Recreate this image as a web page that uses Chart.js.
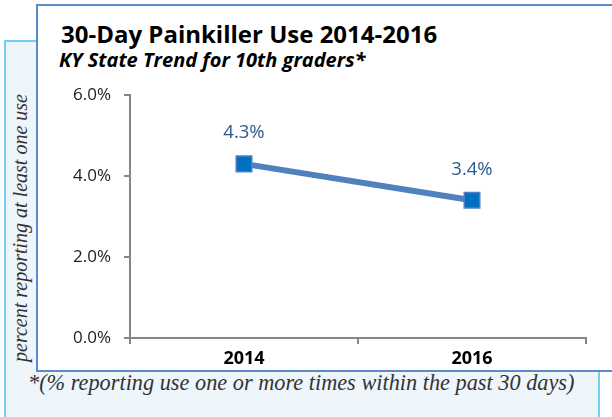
<!DOCTYPE html>
<html>
<head>
<meta charset="utf-8">
<script src="https://cdn.jsdelivr.net/npm/chart.js@4"></script>
<style>
  body { margin: 0; width: 612px; height: 417px; overflow: hidden; background: #fff; position: relative; }
  #panel { position: absolute; left: 4px; top: 40px; width: 592px; height: 400px;
           background: #eef5fb; border: 2px solid #72cdf2; }
  #box { position: absolute; left: 36px; top: 4px; width: 600px; height: 364px;
         background: #fff; border: 2px solid #5d8bc9; }
  #title { position: absolute; left: 61px; top: 17px; font: bold 24px "Open Sans", sans-serif; color: #000; }
  #subtitle { position: absolute; left: 59px; top: 46px; font: italic bold 20px "Open Sans", sans-serif; color: #000; }
  #note { position: absolute; left: 28px; top: 370px; font: italic 22.3px "Liberation Serif", serif; color: #333; white-space: nowrap; }
  #ytitle { position: absolute; left: 20px; top: 228px; transform: translate(-50%, -50%) rotate(-90deg);
            font: italic 20px "Liberation Serif", serif; color: #333; white-space: nowrap; }
  #wrap { position: absolute; left: 0; top: 0; width: 612px; height: 417px; }
</style>
</head>
<body>
<div id="panel"></div>
<div id="box"></div>
<div id="title">30-Day Painkiller Use 2014-2016</div>
<div id="subtitle">KY State Trend for 10th graders*</div>
<div id="note">*(% reporting use one or more times within the past 30 days)</div>
<div id="ytitle">percent reporting at least one use</div>
<div id="wrap"><canvas id="chart" width="612" height="417"></canvas></div>
<script>
const years = ['2014', '2016'];
const useRates = [4.3, 3.4];
const yTicks = [0, 2, 4, 6];

// draws the "4.3%" style labels above each point
const pointLabels = {
    id: 'pointLabels',
    afterDatasetsDraw(chart) {
        const ctx = chart.ctx;
        const meta = chart.getDatasetMeta(0);
        ctx.save();
        ctx.font = '18.5px "Open Sans", sans-serif';
        ctx.fillStyle = '#2c5a8e';
        ctx.textAlign = 'center';
        ctx.textBaseline = 'middle';
        meta.data.forEach((pt, i) => {
            ctx.fillText(useRates[i].toFixed(1) + '%', pt.x, pt.y - 31);
        });
        ctx.restore();
    }
};

new Chart(document.getElementById('chart').getContext('2d'), {
    type: 'line',
    data: {
        labels: years,
        datasets: [{
            data: useRates,
            borderColor: '#4f81bd',
            borderWidth: 6,
            pointStyle: 'rect',
            pointRadius: 11,
            pointBackgroundColor: '#0070c0',
            pointBorderColor: '#4f81bd',
            pointBorderWidth: 1.5,
            tension: 0
        }]
    },
    options: {
        responsive: false,
        animation: false,
        layout: { padding: { left: 8, top: 95, right: 26, bottom: 49 } },
        plugins: { legend: { display: false }, tooltip: { enabled: false } },
        scales: {
            x: {
                offset: true,
                grid: { offset: true, drawOnChartArea: false, tickLength: 6, color: '#868686', lineWidth: 2 },
                border: { color: '#868686', width: 2 },
                ticks: { color: '#000', font: { family: '"Open Sans", sans-serif', size: 18, weight: 'bold' }, padding: 4 },
                afterFit(scale) { scale.height = 30; }
            },
            y: {
                min: 0,
                max: 6,
                afterBuildTicks(scale) { scale.ticks = yTicks.map(v => ({ value: v })); },
                grid: { drawOnChartArea: false, tickLength: 6, color: '#868686', lineWidth: 2 },
                border: { color: '#868686', width: 2 },
                ticks: {
                    color: '#222',
                    font: { family: '"Open Sans", sans-serif', size: 17 },
                    padding: 13,
                    callback: v => v.toFixed(1) + '%'
                },
                afterFit(scale) { scale.width = 122; }
            }
        }
    },
    plugins: [pointLabels]
});
</script>
</body>
</html>
